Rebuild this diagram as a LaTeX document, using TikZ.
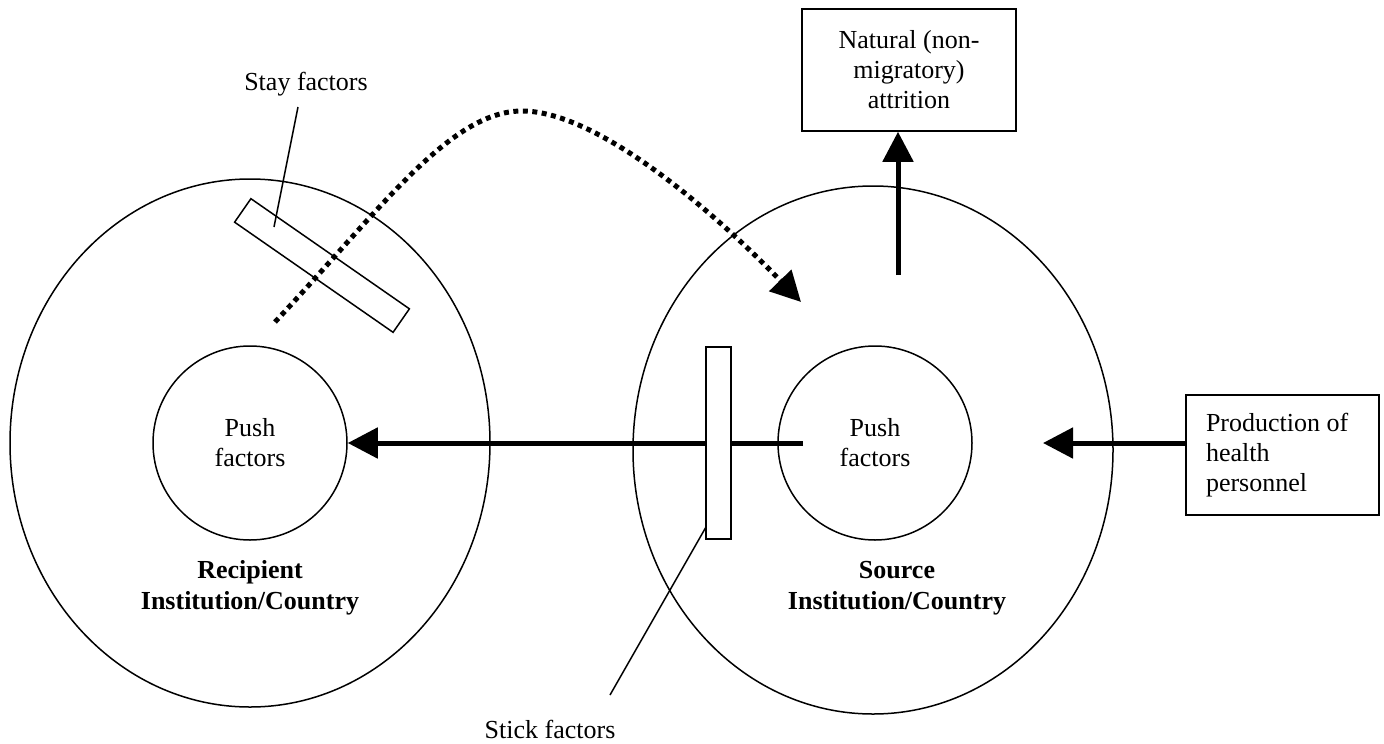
\documentclass[tikz,border=0pt]{standalone}
\usepackage{fontspec}
\setmainfont{Liberation Serif}
\usetikzlibrary{arrows.meta,shapes.geometric}
\begin{document}
\begin{tikzpicture}[x=1pt,y=-1pt,
  thinline/.style={line width=1.5pt},
  bigarrow/.style={line width=5pt,-{Triangle[length=30pt,width=30pt]}},
  dotarrow/.style={line width=5pt,line cap=butt,dash pattern=on 5pt off 4.5pt,-{Triangle[length=30pt,width=30pt]}},
  txt/.style={font=\fontsize{26}{30}\selectfont, align=center, inner sep=0pt},
  btxt/.style={font=\fontsize{26}{31}\selectfont\bfseries, align=center, inner sep=0pt},
  boxnode/.style={draw, thinline, font=\fontsize{26}{30}\selectfont, inner sep=0pt},
  outer/.style={draw, thinline, ellipse, minimum width=480, minimum height=528, inner sep=0pt},
  inner/.style={draw, thinline, circle, minimum size=194, inner sep=0pt, font=\fontsize{26}{30}\selectfont, align=center},
  bar/.style={draw, thinline, fill=white, inner sep=0pt}]
\useasboundingbox (0,0) rectangle (1384,744);
% outer ellipses
\node[outer] (rec) at (250,443) {};
\node[outer] (src) at (873,450) {};
% inner circles
\node[inner] (pushL) at (250,443) {Push\\factors};
\node[inner] (pushR) at (875,443) {Push\\factors};
% country labels
\node[btxt] (recl) at (250,588) {Recipient\\Institution/Country};
\node[btxt] (srcl) at (897,588) {Source\\Institution/Country};
% boxes
\node[boxnode, minimum width=214, minimum height=122, align=center] (nat) at (909,70) {Natural (non-\\migratory)\\attrition};
\node[boxnode, minimum width=193, minimum height=120, text width=153pt, align=flush left] (prod) at (1282.5,455) {Production of\\health\\personnel};
% main arrow (behind the stick bar)
\coordinate (mstart) at (803,443);
\draw[bigarrow] (mstart) -- (pushL.east);
% stay / stick bars
\node[bar, rotate=-34.8, minimum width=193, minimum height=28.6] (stay) at (322,265.5) {};
\node[bar, minimum width=25, minimum height=192] (stick) at (718.5,443) {};
% labels of bars
\node[txt] (stayl) at (306,84) {Stay factors};
\node[txt] (stickl) at (550,729) {Stick factors};
\coordinate (stayA) at (298,107);
\coordinate (stayB) at (274,227);
\draw[thinline] (stayA) -- (stayB);
\coordinate (stickA) at (706,527);
\coordinate (stickB) at (610,695);
\draw[thinline] (stickA) -- (stickB);
% other arrows
\coordinate (up) at (898,275);
\draw[bigarrow] (up) -- (up |- nat.south);
\coordinate (pin) at (1043,443);
\draw[bigarrow] (prod.west |- pin) -- (pin);
\coordinate (d0) at (275,322);
\coordinate (dpeak) at (522,111);
\coordinate (d1) at (801,302);
\draw[dotarrow] (d0) .. controls (380,210) and (450,111) .. (dpeak)
                     .. controls (600,111) and (720,218) .. (d1);
\end{tikzpicture}
\end{document}
